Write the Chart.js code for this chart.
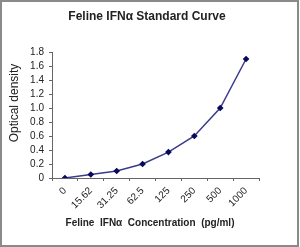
<!DOCTYPE html>
<html>
<head>
<meta charset="utf-8">
<script src="https://cdn.jsdelivr.net/npm/chart.js@4.4.0/dist/chart.umd.min.js"></script>
<style>
    html, body { margin: 0; padding: 0; background: #fff; }
    #frame {
        position: absolute; left: 0; top: 0;
        width: 299px; height: 247px;
        box-sizing: border-box;
        border: 2px solid #8a8a8a;
    }
    #wrap { position: absolute; left: 0; top: 0; width: 300px; height: 247px; }
</style>
</head>
<body>
<div id="frame"></div>
<div id="wrap"><canvas id="c"></canvas></div>
<script>
// 농도 (pg/ml)
const concentrations = ['0', '15.62', '31.25', '62.5', '125', '250', '500', '1000'];
// 흡광도 (OD)
const opticalDensity = [0, 0.05, 0.1, 0.2, 0.37, 0.6, 1.0, 1.7];

const TITLE   = 'Feline IFN\u03b1 Standard Curve';
const X_TITLE = 'Feline  IFN\u03b1  Concentration  (pg/ml)';
const Y_TITLE = 'Optical density';

const FONT = '"Liberation Sans", Arial, sans-serif';
const TEXT = '#222';
const AXIS = '#666';

// 제목/축 제목은 직접 그림 (엑셀 원본 위치에 맞춤)
const titles = {
    id: 'titles',
    afterDraw(chart) {
        const { ctx, chartArea } = chart;
        ctx.save();
        ctx.fillStyle = TEXT;
        ctx.textAlign = 'center';
        ctx.textBaseline = 'middle';
        ctx.font = 'bold 12px ' + FONT;
        ctx.fillText(TITLE, 147, 17);
        ctx.font = 'bold 10px ' + FONT;
        ctx.fillText(X_TITLE, 150, 223);
        ctx.translate(15, (chartArea.top + chartArea.bottom) / 2 - 12);
        ctx.rotate(-Math.PI / 2);
        ctx.font = '12px ' + FONT;
        ctx.fillText(Y_TITLE, 0, 0);
        ctx.restore();
    }
};

// eslint-disable-next-line no-undef
new Chart(document.getElementById('c'), {
    type: 'line',
    data: {
        labels: concentrations,
        datasets: [{
            data: opticalDensity,
            borderColor: '#3b3b8f',
            borderWidth: 1.5,
            backgroundColor: '#0a0a5c',
            pointBackgroundColor: '#0a0a5c',
            pointBorderColor: '#0a0a5c',
            pointStyle: 'rectRot',
            pointRadius: 2.3,
            tension: 0,
            fill: false,
        }],
    },
    options: {
        responsive: true,
        maintainAspectRatio: false,
        animation: false,
        layout: { padding: { left: 0, right: 41, top: 52, bottom: 0 } },
        plugins: {
            legend: { display: false },
            tooltip: { enabled: false },
            title: { display: false },
        },
        scales: {
            x: {
                offset: true,
                afterFit: s => { s.height = 69; },
                grid: { offset: true, drawOnChartArea: false, tickLength: 3, color: AXIS },
                border: { color: AXIS },
                ticks: {
                    color: TEXT,
                    padding: 4,
                    autoSkip: false,
                    minRotation: 45,
                    maxRotation: 45,
                    font: { family: FONT, size: 10 },
                },
            },
            y: {
                min: 0,
                max: 1.8,
                afterFit: s => { s.width = 52; },
                grid: { drawOnChartArea: false, tickLength: 3, color: AXIS },
                border: { color: AXIS },
                ticks: {
                    stepSize: 0.2,
                    autoSkip: false,
                    color: TEXT,
                    padding: 5,
                    font: { family: FONT, size: 10 },
                },
            },
        },
    },
    plugins: [titles],
});
</script>
</body>
</html>
